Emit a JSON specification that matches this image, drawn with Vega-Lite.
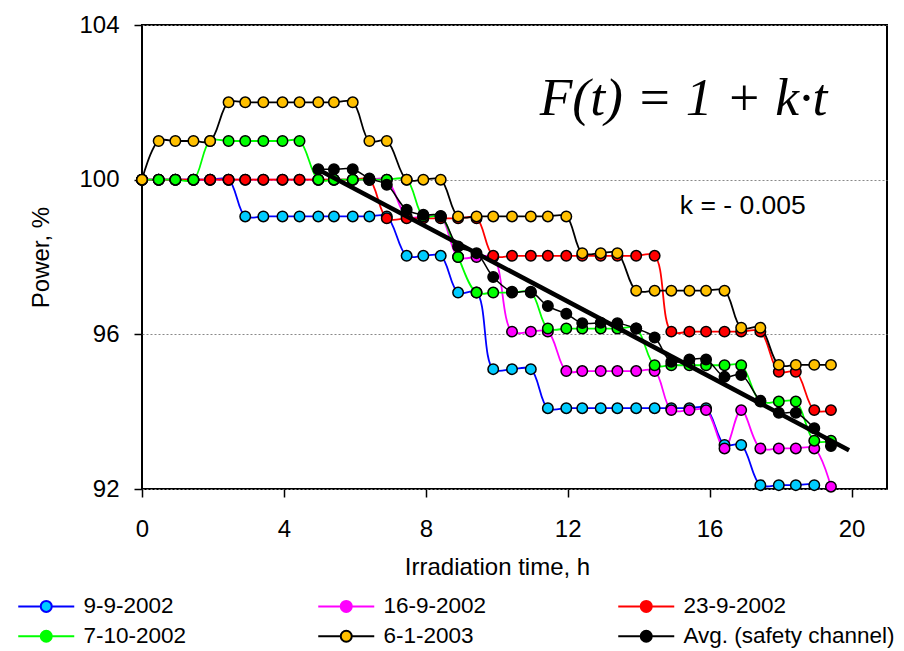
{
  "$schema": "https://vega.github.io/schema/vega-lite/v6.json",
  "autosize": {"type": "none"},
  "padding": {"left": 142, "top": 25, "right": 17, "bottom": 162},
  "width": 745,
  "height": 464,
  "background": "white",
  "config": {
    "view": {"stroke": "black", "strokeWidth": 2},
    "font": "Liberation Sans",
    "axis": {
      "labelFont": "Liberation Sans", "labelFontSize": 24, "labelColor": "black", "labelFlush": false,
      "titleFont": "Liberation Sans", "titleFontSize": 24, "titleFontWeight": "normal", "titleColor": "black",
      "tickColor": "black", "tickWidth": 1.5, "tickSize": 8, "domain": false
    }
  },
  "datasets": {
    "obs": [
      {"s":"9-9-2002","t":0,"v":100},{"s":"9-9-2002","t":0.47,"v":100},{"s":"9-9-2002","t":0.94,"v":100},{"s":"9-9-2002","t":1.45,"v":100},{"s":"9-9-2002","t":1.92,"v":100},{"s":"9-9-2002","t":2.44,"v":100},
      {"s":"9-9-2002","t":2.91,"v":99.05},{"s":"9-9-2002","t":3.42,"v":99.05},{"s":"9-9-2002","t":3.96,"v":99.05},{"s":"9-9-2002","t":4.44,"v":99.05},{"s":"9-9-2002","t":4.97,"v":99.05},{"s":"9-9-2002","t":5.41,"v":99.05},{"s":"9-9-2002","t":5.94,"v":99.05},{"s":"9-9-2002","t":6.41,"v":99.05},{"s":"9-9-2002","t":6.9,"v":99.05},
      {"s":"9-9-2002","t":7.46,"v":98.03},{"s":"9-9-2002","t":7.93,"v":98.03},{"s":"9-9-2002","t":8.42,"v":98.03},
      {"s":"9-9-2002","t":8.91,"v":97.08},{"s":"9-9-2002","t":9.43,"v":97.08},
      {"s":"9-9-2002","t":9.9,"v":95.1},{"s":"9-9-2002","t":10.43,"v":95.1},{"s":"9-9-2002","t":10.96,"v":95.1},
      {"s":"9-9-2002","t":11.44,"v":94.09},{"s":"9-9-2002","t":11.96,"v":94.09},{"s":"9-9-2002","t":12.41,"v":94.09},{"s":"9-9-2002","t":12.93,"v":94.09},{"s":"9-9-2002","t":13.4,"v":94.09},{"s":"9-9-2002","t":13.93,"v":94.09},{"s":"9-9-2002","t":14.45,"v":94.09},{"s":"9-9-2002","t":14.92,"v":94.09},{"s":"9-9-2002","t":15.43,"v":94.09},{"s":"9-9-2002","t":15.9,"v":94.09},
      {"s":"9-9-2002","t":16.42,"v":93.14},{"s":"9-9-2002","t":16.89,"v":93.14},
      {"s":"9-9-2002","t":17.43,"v":92.1},{"s":"9-9-2002","t":17.95,"v":92.1},{"s":"9-9-2002","t":18.43,"v":92.1},{"s":"9-9-2002","t":18.95,"v":92.1},
      {"s":"9-9-2002","t":19.42,"v":91.6},

      {"s":"16-9-2002","t":0,"v":100},{"s":"16-9-2002","t":0.47,"v":100},{"s":"16-9-2002","t":0.94,"v":100},{"s":"16-9-2002","t":1.45,"v":100},{"s":"16-9-2002","t":1.92,"v":100},{"s":"16-9-2002","t":2.44,"v":100},{"s":"16-9-2002","t":2.91,"v":100},{"s":"16-9-2002","t":3.42,"v":100},{"s":"16-9-2002","t":3.96,"v":100},{"s":"16-9-2002","t":4.44,"v":100},{"s":"16-9-2002","t":4.97,"v":100},{"s":"16-9-2002","t":5.41,"v":100},{"s":"16-9-2002","t":5.94,"v":100},{"s":"16-9-2002","t":6.41,"v":100},{"s":"16-9-2002","t":6.9,"v":100},
      {"s":"16-9-2002","t":7.46,"v":99.05},{"s":"16-9-2002","t":7.93,"v":99.05},{"s":"16-9-2002","t":8.42,"v":99.05},
      {"s":"16-9-2002","t":8.91,"v":98.0},{"s":"16-9-2002","t":9.43,"v":98.0},{"s":"16-9-2002","t":9.9,"v":98.0},
      {"s":"16-9-2002","t":10.43,"v":96.07},{"s":"16-9-2002","t":10.96,"v":96.07},{"s":"16-9-2002","t":11.44,"v":96.07},
      {"s":"16-9-2002","t":11.96,"v":95.05},{"s":"16-9-2002","t":12.41,"v":95.05},{"s":"16-9-2002","t":12.93,"v":95.05},{"s":"16-9-2002","t":13.4,"v":95.05},{"s":"16-9-2002","t":13.93,"v":95.05},{"s":"16-9-2002","t":14.45,"v":95.05},
      {"s":"16-9-2002","t":14.92,"v":94.04},{"s":"16-9-2002","t":15.43,"v":94.04},{"s":"16-9-2002","t":15.9,"v":94.04},
      {"s":"16-9-2002","t":16.42,"v":93.05},{"s":"16-9-2002","t":16.89,"v":94.04},
      {"s":"16-9-2002","t":17.43,"v":93.05},{"s":"16-9-2002","t":17.95,"v":93.05},{"s":"16-9-2002","t":18.43,"v":93.05},{"s":"16-9-2002","t":18.95,"v":93.05},
      {"s":"16-9-2002","t":19.42,"v":92.06},

      {"s":"23-9-2002","t":0,"v":100},{"s":"23-9-2002","t":0.47,"v":100},{"s":"23-9-2002","t":0.94,"v":100},{"s":"23-9-2002","t":1.45,"v":100},{"s":"23-9-2002","t":1.92,"v":100},{"s":"23-9-2002","t":2.44,"v":100},{"s":"23-9-2002","t":2.91,"v":100},{"s":"23-9-2002","t":3.42,"v":100},{"s":"23-9-2002","t":3.96,"v":100},{"s":"23-9-2002","t":4.44,"v":100},{"s":"23-9-2002","t":4.97,"v":100},{"s":"23-9-2002","t":5.41,"v":100},{"s":"23-9-2002","t":5.94,"v":100},{"s":"23-9-2002","t":6.41,"v":100},
      {"s":"23-9-2002","t":6.9,"v":99.0},{"s":"23-9-2002","t":7.46,"v":99.0},{"s":"23-9-2002","t":7.93,"v":99.0},{"s":"23-9-2002","t":8.42,"v":99.0},{"s":"23-9-2002","t":8.91,"v":99.0},{"s":"23-9-2002","t":9.43,"v":99.0},
      {"s":"23-9-2002","t":9.9,"v":98.03},{"s":"23-9-2002","t":10.43,"v":98.03},{"s":"23-9-2002","t":10.96,"v":98.03},{"s":"23-9-2002","t":11.44,"v":98.03},{"s":"23-9-2002","t":11.96,"v":98.03},{"s":"23-9-2002","t":12.41,"v":98.03},{"s":"23-9-2002","t":12.93,"v":98.03},{"s":"23-9-2002","t":13.4,"v":98.03},{"s":"23-9-2002","t":13.93,"v":98.03},{"s":"23-9-2002","t":14.45,"v":98.03},
      {"s":"23-9-2002","t":14.92,"v":96.07},{"s":"23-9-2002","t":15.43,"v":96.07},{"s":"23-9-2002","t":15.9,"v":96.07},{"s":"23-9-2002","t":16.42,"v":96.07},{"s":"23-9-2002","t":16.89,"v":96.07},{"s":"23-9-2002","t":17.43,"v":96.07},
      {"s":"23-9-2002","t":17.95,"v":95.03},{"s":"23-9-2002","t":18.43,"v":95.03},
      {"s":"23-9-2002","t":18.95,"v":94.04},{"s":"23-9-2002","t":19.42,"v":94.04},

      {"s":"7-10-2002","t":0,"v":100},{"s":"7-10-2002","t":0.47,"v":100},{"s":"7-10-2002","t":0.94,"v":100},{"s":"7-10-2002","t":1.45,"v":100},
      {"s":"7-10-2002","t":1.92,"v":101},{"s":"7-10-2002","t":2.44,"v":101},{"s":"7-10-2002","t":2.91,"v":101},{"s":"7-10-2002","t":3.42,"v":101},{"s":"7-10-2002","t":3.96,"v":101},{"s":"7-10-2002","t":4.44,"v":101},
      {"s":"7-10-2002","t":4.97,"v":100},{"s":"7-10-2002","t":5.41,"v":100},{"s":"7-10-2002","t":5.94,"v":100},{"s":"7-10-2002","t":6.41,"v":100},{"s":"7-10-2002","t":6.9,"v":100},{"s":"7-10-2002","t":7.46,"v":100},
      {"s":"7-10-2002","t":7.93,"v":99.05},{"s":"7-10-2002","t":8.42,"v":99.05},
      {"s":"7-10-2002","t":8.91,"v":98.0},
      {"s":"7-10-2002","t":9.43,"v":97.08},{"s":"7-10-2002","t":9.9,"v":97.08},{"s":"7-10-2002","t":10.43,"v":97.08},{"s":"7-10-2002","t":10.96,"v":97.08},
      {"s":"7-10-2002","t":11.44,"v":96.15},{"s":"7-10-2002","t":11.96,"v":96.15},{"s":"7-10-2002","t":12.41,"v":96.15},{"s":"7-10-2002","t":12.93,"v":96.15},{"s":"7-10-2002","t":13.4,"v":96.15},{"s":"7-10-2002","t":13.93,"v":96.15},
      {"s":"7-10-2002","t":14.45,"v":95.2},{"s":"7-10-2002","t":14.92,"v":95.2},{"s":"7-10-2002","t":15.43,"v":95.2},{"s":"7-10-2002","t":15.9,"v":95.2},{"s":"7-10-2002","t":16.42,"v":95.2},{"s":"7-10-2002","t":16.89,"v":95.2},
      {"s":"7-10-2002","t":17.43,"v":94.26},{"s":"7-10-2002","t":17.95,"v":94.26},{"s":"7-10-2002","t":18.43,"v":94.26},
      {"s":"7-10-2002","t":18.95,"v":93.25},{"s":"7-10-2002","t":19.42,"v":93.25},

      {"s":"6-1-2003","t":0,"v":100},
      {"s":"6-1-2003","t":0.47,"v":101},{"s":"6-1-2003","t":0.94,"v":101},{"s":"6-1-2003","t":1.45,"v":101},{"s":"6-1-2003","t":1.92,"v":101},
      {"s":"6-1-2003","t":2.44,"v":102},{"s":"6-1-2003","t":2.91,"v":102},{"s":"6-1-2003","t":3.42,"v":102},{"s":"6-1-2003","t":3.96,"v":102},{"s":"6-1-2003","t":4.44,"v":102},{"s":"6-1-2003","t":4.97,"v":102},{"s":"6-1-2003","t":5.41,"v":102},{"s":"6-1-2003","t":5.94,"v":102},
      {"s":"6-1-2003","t":6.41,"v":101},{"s":"6-1-2003","t":6.9,"v":101},
      {"s":"6-1-2003","t":7.46,"v":100},{"s":"6-1-2003","t":7.93,"v":100},{"s":"6-1-2003","t":8.42,"v":100},
      {"s":"6-1-2003","t":8.91,"v":99.05},{"s":"6-1-2003","t":9.43,"v":99.05},{"s":"6-1-2003","t":9.9,"v":99.05},{"s":"6-1-2003","t":10.43,"v":99.05},{"s":"6-1-2003","t":10.96,"v":99.05},{"s":"6-1-2003","t":11.44,"v":99.05},{"s":"6-1-2003","t":11.96,"v":99.05},
      {"s":"6-1-2003","t":12.41,"v":98.1},{"s":"6-1-2003","t":12.93,"v":98.1},{"s":"6-1-2003","t":13.4,"v":98.1},
      {"s":"6-1-2003","t":13.93,"v":97.13},{"s":"6-1-2003","t":14.45,"v":97.13},{"s":"6-1-2003","t":14.92,"v":97.13},{"s":"6-1-2003","t":15.43,"v":97.13},{"s":"6-1-2003","t":15.9,"v":97.13},{"s":"6-1-2003","t":16.42,"v":97.13},
      {"s":"6-1-2003","t":16.89,"v":96.17},{"s":"6-1-2003","t":17.43,"v":96.17},
      {"s":"6-1-2003","t":17.95,"v":95.21},{"s":"6-1-2003","t":18.43,"v":95.21},{"s":"6-1-2003","t":18.95,"v":95.21},{"s":"6-1-2003","t":19.42,"v":95.21},

      {"s":"Avg. (safety channel)","t":4.97,"v":100.27},{"s":"Avg. (safety channel)","t":5.41,"v":100.27},{"s":"Avg. (safety channel)","t":5.94,"v":100.27},{"s":"Avg. (safety channel)","t":6.41,"v":100.03},{"s":"Avg. (safety channel)","t":6.9,"v":99.87},
      {"s":"Avg. (safety channel)","t":7.46,"v":99.22},{"s":"Avg. (safety channel)","t":7.93,"v":99.09},{"s":"Avg. (safety channel)","t":8.42,"v":99.06},{"s":"Avg. (safety channel)","t":8.91,"v":98.27},{"s":"Avg. (safety channel)","t":9.43,"v":98.1},
      {"s":"Avg. (safety channel)","t":9.9,"v":97.48},{"s":"Avg. (safety channel)","t":10.43,"v":97.1},{"s":"Avg. (safety channel)","t":10.96,"v":97.1},{"s":"Avg. (safety channel)","t":11.44,"v":96.73},{"s":"Avg. (safety channel)","t":11.96,"v":96.53},
      {"s":"Avg. (safety channel)","t":12.41,"v":96.29},{"s":"Avg. (safety channel)","t":12.93,"v":96.3},{"s":"Avg. (safety channel)","t":13.4,"v":96.29},{"s":"Avg. (safety channel)","t":13.93,"v":96.15},{"s":"Avg. (safety channel)","t":14.45,"v":95.92},
      {"s":"Avg. (safety channel)","t":14.92,"v":95.29},{"s":"Avg. (safety channel)","t":15.43,"v":95.35},{"s":"Avg. (safety channel)","t":15.9,"v":95.35},{"s":"Avg. (safety channel)","t":16.42,"v":94.9},{"s":"Avg. (safety channel)","t":16.89,"v":94.95},
      {"s":"Avg. (safety channel)","t":17.43,"v":94.28},{"s":"Avg. (safety channel)","t":17.95,"v":93.97},{"s":"Avg. (safety channel)","t":18.43,"v":93.97},{"s":"Avg. (safety channel)","t":18.95,"v":93.57},{"s":"Avg. (safety channel)","t":19.42,"v":93.11}
    ],
    "fit": [
      {"t": 4.83, "v": 100.33},
      {"t": 19.93, "v": 93.0}
    ],
    "notes": [
      {"label": "F(t) = 1 + k·t", "t": 11.21, "v": 101.67},
      {"label": "k = - 0.005", "t": 15.16, "v": 99.11}
    ]
  },
  "data": {"name": "obs"},
  "encoding": {
    "x": {
      "field": "t", "type": "quantitative",
      "scale": {"domain": [0, 21], "nice": false, "zero": false},
      "axis": {"values": [0, 4, 8, 12, 16, 20], "title": "Irradiation time, h", "labelPadding": 20, "titlePadding": 14, "titleX": 355, "grid": false}
    },
    "y": {
      "field": "v", "type": "quantitative",
      "scale": {"domain": [92, 104], "nice": false, "zero": false},
      "axis": {"values": [92, 96, 100, 104], "title": "Power, %", "labelPadding": 15, "titlePadding": 25, "grid": true, "gridColor": "#888888", "gridDash": [2, 2], "gridWidth": 1}
    }
  },
  "layer": [
    {
      "transform": [{"filter": "datum.s !== 'Avg. (safety channel)'"}],
      "mark": {"type": "line", "interpolate": "catmull-rom", "strokeWidth": 1.8, "clip": true},
      "encoding": {
        "stroke": {
          "field": "s", "type": "nominal",
          "scale": {"domain": ["9-9-2002", "16-9-2002", "23-9-2002", "7-10-2002", "6-1-2003", "Avg. (safety channel)"], "range": ["#0000FF", "#FF00FF", "#FF0000", "#00FF00", "#000000", "#000000"]},
          "legend": {
            "orient": "none", "direction": "horizontal", "legendX": -107, "legendY": 570, "columns": 3, "title": null, "padding": 0,
            "symbolType": "M-5.6,0H-1.1M1.1,0H5.6M-1.1,0A1.1,1.1,0,1,1,1.1,0A1.1,1.1,0,1,1,-1.1,0Z",
            "symbolSize": 100, "symbolStrokeWidth": 2, "labelOffset": 26, "columnPadding": 19, "rowPadding": 7, "gridAlign": "all",
            "labelFont": "Liberation Sans", "labelFontSize": 22.5, "labelColor": "black", "labelLimit": 400,
            "encode": {"symbols": {"update": {"fill": {"scale": "fill", "field": "value"}, "stroke": {"scale": "stroke", "field": "value"}, "strokeWidth": {"value": 2}, "opacity": {"value": 1}}}}
          }
        },
        "order": {"field": "t", "type": "quantitative"}
      }
    },
    {
      "transform": [{"filter": "datum.s !== 'Avg. (safety channel)' && datum.v >= 92"}],
      "mark": {"type": "point", "shape": "circle", "filled": true, "size": 110, "stroke": "black", "strokeWidth": 1.5, "opacity": 1},
      "encoding": {
        "fill": {
          "field": "s", "type": "nominal",
          "scale": {"domain": ["9-9-2002", "16-9-2002", "23-9-2002", "7-10-2002", "6-1-2003", "Avg. (safety channel)"], "range": ["#00CCFF", "#FF00FF", "#FF0000", "#00FF00", "#FFC000", "#000000"]},
          "legend": null
        }
      }
    },
    {
      "transform": [{"filter": "datum.s === 'Avg. (safety channel)'"}],
      "mark": {"type": "line", "interpolate": "catmull-rom", "strokeWidth": 1.5},
      "encoding": {
        "stroke": {"field": "s", "type": "nominal"},
        "order": {"field": "t", "type": "quantitative"}
      }
    },
    {
      "transform": [{"filter": "datum.s === 'Avg. (safety channel)'"}],
      "mark": {"type": "point", "shape": "circle", "filled": true, "size": 110, "stroke": "black", "strokeWidth": 1.5, "opacity": 1},
      "encoding": {
        "fill": {"field": "s", "type": "nominal"}
      }
    },
    {
      "data": {"name": "fit"},
      "mark": {"type": "line", "color": "black", "strokeWidth": 4.5},
      "encoding": {}
    },
    {
      "data": {"name": "notes"},
      "transform": [{"filter": "datum.t < 12"}],
      "mark": {"type": "text", "font": "Liberation Serif", "fontStyle": "italic", "fontSize": 53.5, "align": "left", "baseline": "alphabetic", "color": "black"},
      "encoding": {"text": {"field": "label"}}
    },
    {
      "data": {"name": "notes"},
      "transform": [{"filter": "datum.t > 12"}],
      "mark": {"type": "text", "font": "Liberation Sans", "fontSize": 26.5, "align": "left", "baseline": "alphabetic", "color": "black"},
      "encoding": {"text": {"field": "label"}}
    }
  ]
}
